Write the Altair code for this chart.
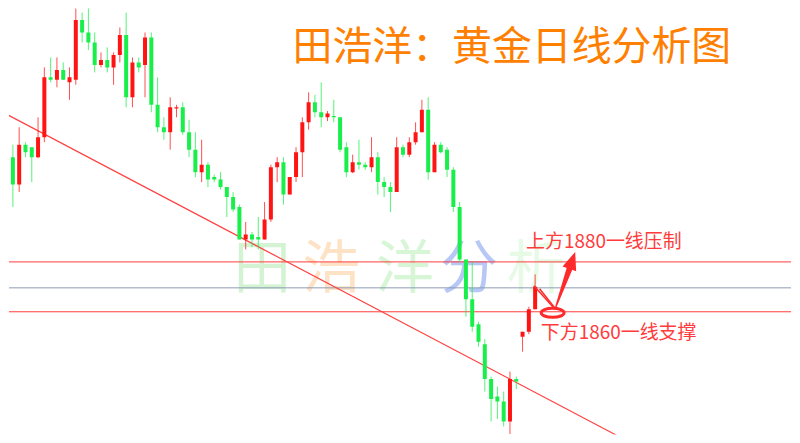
import altair as alt
import pandas as pd

# ---- candle data (price) ----
opens = [1934, 1922, 1911, 1927, 1926, 1922, 1930, 1954, 1953, 1957,
         1952, 1953, 1977, 1972, 1968, 1959, 1961, 1958, 1963, 1971,
         1946, 1960, 1959, 1970, 1943, 1934, 1932, 1941.5, 1942, 1932,
         1925, 1916, 1919, 1914, 1913, 1910, 1906, 1902, 1889, 1891,
         1890, 1889, 1897, 1918, 1920, 1907, 1914, 1924, 1936, 1944,
         1940, 1938, 1938.5, 1938, 1926, 1916, 1920, 1919, 1918, 1922,
         1912, 1910, 1908, 1926, 1923, 1928, 1932, 1941, 1916, 1927,
         1925, 1917, 1902, 1881, 1865, 1855, 1847, 1833, 1826, 1824,
         1816, 1833, 1850, 1852, 1861]
closes = [1921, 1911, 1927, 1924, 1922, 1930, 1954, 1953, 1957, 1953,
          1954, 1977, 1972, 1968, 1959, 1961, 1958, 1963, 1971, 1946,
          1960, 1958, 1970, 1943, 1934, 1932, 1942, 1942, 1932, 1925,
          1916, 1919, 1913, 1913, 1910, 1906, 1901, 1889, 1891, 1889,
          1889, 1897, 1918, 1920, 1907, 1914, 1924, 1936, 1944, 1940,
          1938, 1939.5, 1938, 1925, 1916, 1920, 1919, 1918, 1922, 1912,
          1910, 1908, 1926, 1923, 1928, 1932, 1941, 1916, 1927, 1924,
          1917, 1902, 1881, 1865, 1854, 1848, 1833, 1825, 1824, 1816,
          1833, 1832, 1852, 1861, 1870]
highs = [1937, 1927, 1934, 1928, 1926, 1938, 1958, 1962, 1962, 1960,
         1958, 1983, 1980, 1985, 1972, 1964, 1966, 1964, 1974, 1980,
         1962, 1962, 1972, 1972, 1954, 1938, 1946, 1943, 1944, 1937,
         1932, 1929, 1920, 1915, 1916, 1910, 1908, 1903, 1896, 1892,
         1898, 1904, 1919, 1922, 1922, 1914, 1926, 1938, 1948, 1947,
         1952, 1940.5, 1945, 1938, 1928, 1923, 1929, 1920, 1930, 1924,
         1914, 1912, 1930, 1927, 1930, 1936, 1945, 1946, 1928, 1928,
         1926, 1918, 1904, 1881, 1880, 1856, 1849, 1834, 1830, 1828,
         1836, 1834, 1852, 1862, 1875]
lows = [1909, 1902, 1908, 1922, 1912, 1921.6, 1928, 1952, 1950, 1953,
        1945, 1951, 1968, 1965, 1956, 1958, 1956, 1951, 1960, 1942,
        1942, 1956, 1946, 1940, 1932, 1929, 1925, 1938, 1931, 1922,
        1914, 1912, 1910, 1912, 1909, 1898, 1900, 1889, 1885, 1886,
        1885, 1889, 1896, 1912, 1903, 1907, 1912, 1914, 1933, 1938,
        1934, 1936.5, 1936, 1924, 1914, 1915.6, 1917, 1917, 1916, 1907,
        1906, 1900, 1908, 1922, 1922, 1927, 1932, 1913, 1916, 1923.5,
        1914, 1900, 1880, 1858, 1852, 1846, 1828, 1816, 1817, 1814,
        1811, 1829, 1844, 1851, 1861]

# horizontal levels
level_prices = [1880, 1869.6, 1860]
level_colors = ["#ff3b3b", "#8d9db3", "#ff3b3b"]

# trend line endpoints (index, price)
trend_i = [0, 97]
trend_p = [1939.2, 1810.4]

title_text = "田浩洋：黄金日线分析图"
wm_chars = ["田", "浩", "洋", "分", "析"]
wm_i = [40.6, 51.6, 63.3, 73.5, 84.1]
wm_colors = ["#d3f3d3", "#fde2c6", "#d6f6d6", "#b7c8f6", "#e6fae6"]

ann_texts = ["上方1880一线压制", "下方1860一线支撑"]
ann_i = [82.55, 84.9]
ann_p = [1888.0, 1851.6]

RED = "#ff1414"
GREEN = "#19ef4a"

X0, X1 = 1.174, 123.87
Y0, Y1 = 1810.8, 1981.6
W, H = 784, 427

xs = alt.Scale(domain=[X0, X1], nice=False, zero=False)
ys = alt.Scale(domain=[Y0, Y1], nice=False, zero=False)

n = len(opens)
df = pd.DataFrame({"i": list(range(n)), "open": opens, "close": closes,
                   "high": highs, "low": lows})
df["dir"] = ["up" if c >= o else "down" for o, c in zip(opens, closes)]
cscale = alt.Scale(domain=["up", "down"], range=[RED, GREEN])

base = alt.Chart(df)
wicks = base.mark_rule(strokeWidth=1, clip=True, opacity=0.75).encode(
    x=alt.X("i:Q", scale=xs, axis=None),
    y=alt.Y("low:Q", scale=ys, axis=None),
    y2="high:Q",
    color=alt.Color("dir:N", scale=cscale, legend=None),
)
bodies = base.mark_bar(size=4, clip=True).encode(
    x=alt.X("i:Q", scale=xs, axis=None),
    y=alt.Y("open:Q", scale=ys, axis=None),
    y2="close:Q",
    color=alt.Color("dir:N", scale=cscale, legend=None),
)

lv = pd.DataFrame({"p": level_prices, "c": level_colors})
levels = alt.Chart(lv).mark_rule(strokeWidth=1).encode(
    y=alt.Y("p:Q", scale=ys, axis=None),
    color=alt.Color("c:N", scale=None),
)

tr = pd.DataFrame({"i": trend_i, "p": trend_p})
trend = alt.Chart(tr).mark_line(color="#ff4040", strokeWidth=1.2, clip=True).encode(
    x=alt.X("i:Q", scale=xs, axis=None),
    y=alt.Y("p:Q", scale=ys, axis=None),
)

wm = pd.DataFrame({"t": wm_chars, "i": wm_i, "p": [1876.5] * 5, "c": wm_colors})
watermark = alt.Chart(wm).mark_text(font="Noto Sans CJK SC", fontSize=58,
                                    align="center", baseline="middle").encode(
    x=alt.X("i:Q", scale=xs, axis=None),
    y=alt.Y("p:Q", scale=ys, axis=None),
    text="t:N",
    color=alt.Color("c:N", scale=None),
)

ttl = pd.DataFrame({"t": [title_text], "i": [80.3], "p": [1965.6]})
title = alt.Chart(ttl).mark_text(font="Noto Sans CJK SC", fontSize=40,
                                 color="#ff8000", align="center",
                                 baseline="middle").encode(
    x=alt.X("i:Q", scale=xs, axis=None),
    y=alt.Y("p:Q", scale=ys, axis=None),
    text="t:N",
)

an = pd.DataFrame({"t": ann_texts, "i": ann_i, "p": ann_p})
annots = alt.Chart(an).mark_text(font="Noto Sans CJK SC", fontSize=19,
                                 color="#ff3b3b", align="left",
                                 baseline="middle").encode(
    x=alt.X("i:Q", scale=xs, axis=None),
    y=alt.Y("p:Q", scale=ys, axis=None),
    text="t:N",
)

# pointer wedge from last candle to ellipse
wd = pd.DataFrame({"g": ["a", "a", "b", "b"],
                   "i": [83.8, 86.8, 84.7, 87.1],
                   "p": [1870.4, 1862.0, 1869.2, 1861.6]})
wedge = alt.Chart(wd).mark_line(color="#ff2a2a", strokeWidth=1.5).encode(
    x=alt.X("i:Q", scale=xs, axis=None),
    y=alt.Y("p:Q", scale=ys, axis=None),
    detail="g:N",
)

# arrow shaft (tapered) and head
sh = pd.DataFrame({"i": [87.3, 89.5], "p": [1862.0, 1877.6], "w": [1.5, 6]})
shaft = alt.Chart(sh).mark_trail(color="#ff2a2a").encode(
    x=alt.X("i:Q", scale=xs, axis=None),
    y=alt.Y("p:Q", scale=ys, axis=None),
    size=alt.Size("w:Q", scale=None, legend=None),
)
hd = pd.DataFrame({"i": [89.9], "p": [1880.6]})
head = alt.Chart(hd).mark_point(shape="M0,-1L0.8,1L-0.8,1Z", size=324, angle=19,
                                filled=True, color="#ff2a2a", opacity=1).encode(
    x=alt.X("i:Q", scale=xs, axis=None),
    y=alt.Y("p:Q", scale=ys, axis=None),
)

el = pd.DataFrame({"i": [86.78], "p": [1859.6]})
ellipse = alt.Chart(el).mark_point(
    shape="M-1,0A1,0.4,0,1,0,1,0A1,0.4,0,1,0,-1,0Z", size=529,
    filled=False, strokeWidth=3, color="#ff2a2a", opacity=1).encode(
    x=alt.X("i:Q", scale=xs, axis=None),
    y=alt.Y("p:Q", scale=ys, axis=None),
)

chart = alt.layer(
    watermark, levels, trend, wicks, bodies, wedge, ellipse, shaft, head,
    annots, title
).properties(width=W, height=H, padding=0, background="white").configure_view(
    stroke=None
)

chart.save("out.html", embed_options={"renderer": "svg", "actions": False})
